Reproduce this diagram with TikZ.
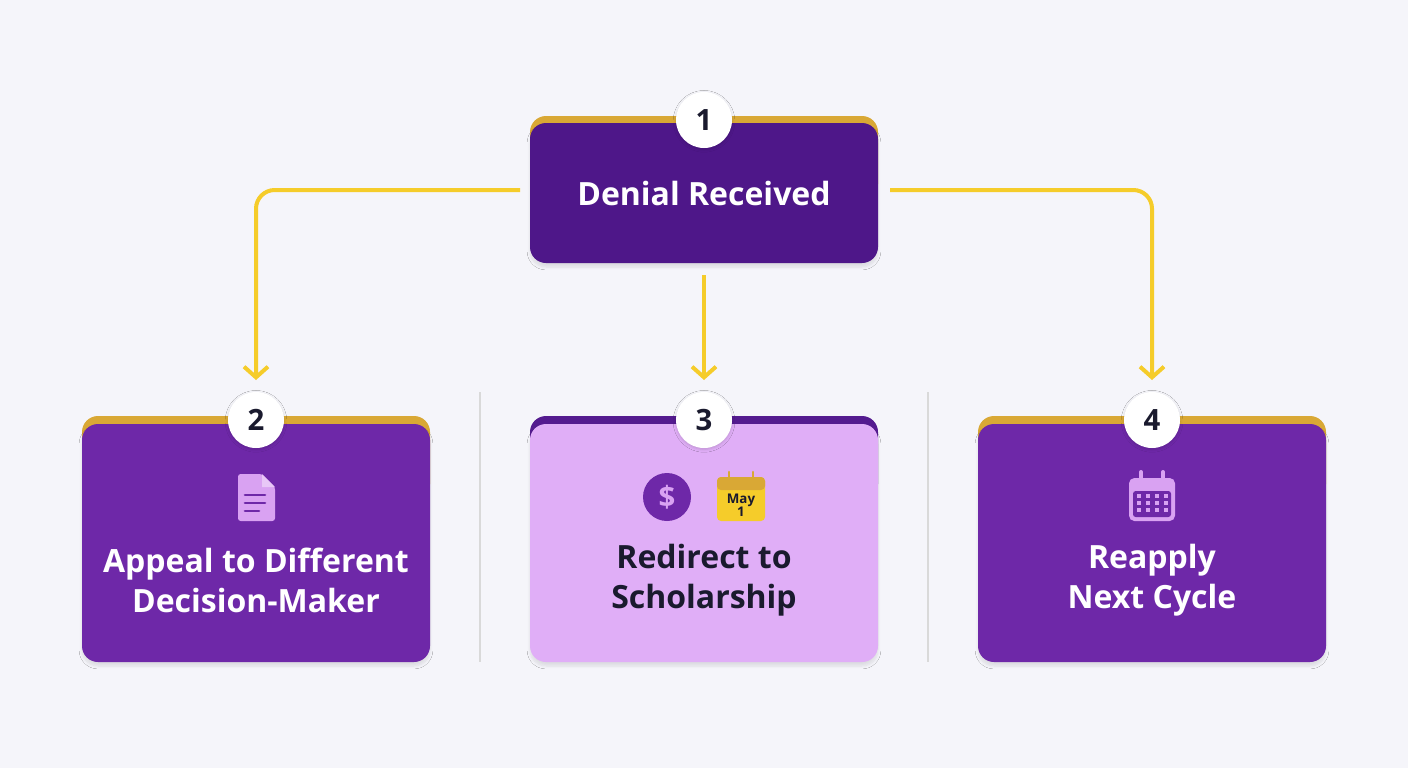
\documentclass[tikz,border=0pt]{standalone}
\usepackage{fontspec}
\setmainfont{Open Sans}
\usetikzlibrary{arrows.meta,shadows.blur}
\definecolor{bg}{HTML}{F5F5FA}
\definecolor{dpurple}{HTML}{4E1789}
\definecolor{mpurple}{HTML}{6E28A8}
\definecolor{lpurple}{HTML}{E0AEF7}
\definecolor{gold}{HTML}{F5CC2A}
\definecolor{goldd}{HTML}{D9A835}
\definecolor{icon}{HTML}{D9A2F2}
\definecolor{ink}{HTML}{1A1A2E}
\begin{document}
\begin{tikzpicture}[x=0.75pt,y=-0.75pt,
 box/.style={rounded corners=12pt,blur shadow={shadow blur steps=6,shadow xshift=0pt,shadow yshift=-3pt,shadow opacity=10}},
 badge/.style={circle,fill=white,minimum size=42pt,inner sep=0pt,font=\fontsize{22}{22}\selectfont\bfseries,text=ink,blur shadow={shadow blur steps=4,shadow xshift=0pt,shadow yshift=-1pt,shadow opacity=15}},
 lbl/.style={align=center,font=\fontsize{24}{30}\selectfont\bfseries},
 conn/.style={draw=gold,line width=3pt,rounded corners=14pt,-{Straight Barb[length=8pt,width=18pt,line width=3pt]}},
 divl/.style={draw=black!15,line width=0.8pt}]
\fill[bg] (0,0) rectangle (1408,768);
\useasboundingbox (0,0) rectangle (1408,768);
% top edges
\fill[goldd,rounded corners=12pt] (530,116) rectangle (878,200);
\fill[goldd,rounded corners=12pt] (82,416) rectangle (430,500);
\fill[dpurple!80!mpurple,rounded corners=12pt] (530,416) rectangle (878,500);
\fill[goldd,rounded corners=12pt] (978,416) rectangle (1326,500);
\node[box,fill=dpurple,minimum width=348*0.75pt,minimum height=140*0.75pt,inner sep=0pt] (n1) at (704,193) {};
\node[box,fill=mpurple,minimum width=348*0.75pt,minimum height=238*0.75pt,inner sep=0pt] (n2) at (256,543) {};
\node[box,fill=lpurple,minimum width=348*0.75pt,minimum height=238*0.75pt,inner sep=0pt] (n3) at (704,543) {};
\node[box,fill=mpurple,minimum width=348*0.75pt,minimum height=238*0.75pt,inner sep=0pt] (n4) at (1152,543) {};
\node[lbl,text=white] (t1) at (704,193) {Denial Received};
\node[lbl,text=white] (t2) at (256,580) {Appeal to Different\\Decision-Maker};
\node[lbl,text=ink] (t3) at (704,580) {Redirect to\\Scholarship};
\node[lbl,text=white] (t4) at (1152,580) {Reapply\\Next Cycle};
\node[badge] (b1) at (704,120) {1};
\node[badge] (b2) at (256,420) {2};
\node[badge] (b3) at (704,420) {3};
\node[badge] (b4) at (1152,420) {4};
% connectors
\coordinate (l0) at (520,190); \coordinate (l1) at (256,190); \coordinate (l2) at (256,380);
\coordinate (r0) at (890,190); \coordinate (r1) at (1152,190); \coordinate (r2) at (1152,380);
\coordinate (m0) at (704,275); \coordinate (m2) at (704,380);
\draw[conn] (l0) -- (l1) -- (l2);
\draw[conn] (r0) -- (r1) -- (r2);
\draw[conn] (m0) -- (m2);
\coordinate (d1a) at (480,392); \coordinate (d1b) at (480,662);
\coordinate (d2a) at (928,392); \coordinate (d2b) at (928,662);
\draw[divl] (d1a) -- (d1b);
\draw[divl] (d2a) -- (d2b);
% document icon
\fill[icon,rounded corners=2pt] (238,474) -- (262,474) -- (275,487) -- (275,521) -- (238,521) -- cycle;
\fill[icon!60!white] (262,474) -- (262,487) -- (275,487) -- cycle;
\foreach \yy/\w in {495/20,503/20,511/14}{\draw[mpurple,line width=2pt,line cap=round] (245,\yy) -- (245+\w,\yy);}
% dollar icon
\fill[mpurple] (667,497) circle (24);
\node[text=icon,font=\fontsize{22}{22}\selectfont\bfseries] at (667,497) {\$};
% May calendar
\fill[gold,rounded corners=3pt] (717,477) rectangle (765,521);
\fill[goldd,rounded corners=3pt] (717,477) rectangle (765,490);
\draw[goldd,line width=2pt,line cap=round] (729,472) -- (729,482) (753,472) -- (753,482);
\node[text=ink,align=center,font=\fontsize{10}{10}\selectfont\bfseries] at (741,505) {May\\1};
% calendar icon
\fill[icon,rounded corners=4pt] (1129,478) rectangle (1175,521);
\fill[mpurple,rounded corners=2pt] (1133,491) rectangle (1171,517);
\draw[icon,line width=3pt,line cap=round] (1141,472) -- (1141,482) (1163,472) -- (1163,482);
\foreach \i in {0,1,2,3}{\foreach \j in {0,1,2}{\fill[icon] (1139+\i*9-2,496+\j*7-2) rectangle ++(4,4);}}
\end{tikzpicture}
\end{document}
